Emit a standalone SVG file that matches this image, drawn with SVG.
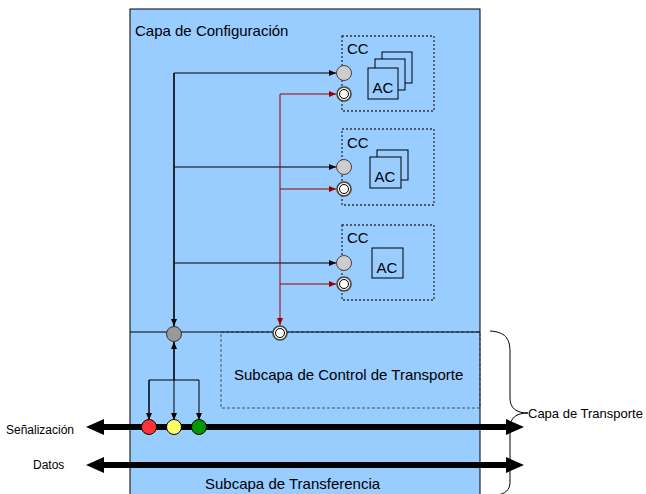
<svg xmlns="http://www.w3.org/2000/svg" width="646" height="494" viewBox="0 0 646 494">
<style>
text{font-family:"Liberation Sans",Arial,sans-serif;fill:#000}
.t15{font-size:15px}
.cc{fill:none;stroke:#333;stroke-width:1.3;stroke-dasharray:2,2}
.ac{fill:#99ccff;stroke:#000;stroke-width:1}
.gc{fill:#cccccc;stroke:#444;stroke-width:1}
.dco{fill:#f2ecd8;stroke:#444;stroke-width:1.6}
.dci{fill:#fff;stroke:#000;stroke-width:1}
.blk{fill:none;stroke:#000;stroke-width:1}
.red{fill:none;stroke:#990000;stroke-width:1}
.thick{stroke:#000;stroke-width:6}
</style>
<defs>
<marker id="ab" markerWidth="8" markerHeight="8" refX="7" refY="4" orient="auto" markerUnits="userSpaceOnUse"><path d="M0,1 L7,4 L0,7 Z" fill="#000"/></marker>
<marker id="ar" markerWidth="8" markerHeight="8" refX="7" refY="4" orient="auto" markerUnits="userSpaceOnUse"><path d="M0,1 L7,4 L0,7 Z" fill="#990000"/></marker>
</defs>
<rect width="646" height="494" fill="#fff"/>
<g id="capa">
<rect x="130" y="9" width="350" height="500" fill="#99ccff" stroke="#000" stroke-width="1"/>
<text class="t15" x="135" y="36">Capa de Configuración</text>
</g>
<g id="control">
<rect x="221" y="332" width="259" height="76" fill="none" stroke="#333" stroke-width="0.8" stroke-dasharray="3,2"/>
<text class="t15" x="234" y="380">Subcapa de Control de Transporte</text>
</g>
<g id="transferencia">
<text class="t15" x="205" y="489">Subcapa de Transferencia</text>
</g>
<g id="cc1">
<rect class="cc" x="342" y="36" width="92" height="75"/>
<text class="t15" x="347" y="54">CC</text>
<rect class="ac" x="382" y="52" width="30" height="31"/>
<rect class="ac" x="375" y="59" width="30" height="31"/>
<rect class="ac" x="368" y="68" width="30" height="31"/>
<text class="t15" x="383" y="93" text-anchor="middle">AC</text>
<circle class="gc" cx="344" cy="73" r="7.5"/>
<circle class="dco" cx="344" cy="94" r="7"/>
<circle class="dci" cx="344" cy="94" r="4.5"/>
</g>
<g id="cc2">
<rect class="cc" x="342" y="129" width="92" height="76"/>
<text class="t15" x="347" y="148">CC</text>
<rect class="ac" x="377" y="150" width="31" height="30"/>
<rect class="ac" x="370" y="157" width="31" height="31"/>
<text class="t15" x="385" y="182" text-anchor="middle">AC</text>
<circle class="gc" cx="344" cy="167" r="7.5"/>
<circle class="dco" cx="344" cy="189" r="7"/>
<circle class="dci" cx="344" cy="189" r="4.5"/>
</g>
<g id="cc3">
<rect class="cc" x="342" y="225" width="92" height="75"/>
<text class="t15" x="347" y="243">CC</text>
<rect class="ac" x="372" y="248" width="31" height="30"/>
<text class="t15" x="387" y="273" text-anchor="middle">AC</text>
<circle class="gc" cx="344" cy="263" r="7.5"/>
<circle class="dco" cx="344" cy="284" r="7"/>
<circle class="dci" cx="344" cy="284" r="4.5"/>
</g>
<g id="connectors">
<line x1="130" y1="332" x2="480" y2="332" stroke="#000" stroke-width="1"/>
<line x1="174" y1="73" x2="174" y2="326" stroke="#000" stroke-width="1.6" marker-end="url(#ab)"/>
<line class="blk" x1="174" y1="73" x2="336" y2="73" marker-end="url(#ab)"/>
<line class="blk" x1="174" y1="167" x2="336" y2="167" marker-end="url(#ab)"/>
<line class="blk" x1="174" y1="263" x2="336" y2="263" marker-end="url(#ab)"/>
<line class="red" x1="280" y1="94" x2="280" y2="325" marker-end="url(#ar)"/>
<line class="red" x1="280" y1="94" x2="336" y2="94" marker-end="url(#ar)"/>
<line class="red" x1="280" y1="189" x2="336" y2="189" marker-end="url(#ar)"/>
<line class="red" x1="280" y1="284" x2="336" y2="284" marker-end="url(#ar)"/>
<line x1="174" y1="380" x2="174" y2="342" stroke="#000" stroke-width="1.6" marker-end="url(#ab)"/>
<polyline class="blk" points="149,420 149,380 199,380 199,420" marker-end="url(#ab)"/>
<polyline class="blk" points="149,380 149,420" marker-end="url(#ab)"/>
<line class="blk" x1="174" y1="380" x2="174" y2="420" marker-end="url(#ab)"/>
<line class="thick" x1="102" y1="427" x2="508" y2="427"/>
<polygon points="86,427 104,419 104,435"/>
<polygon points="524,427 506,419 506,435"/>
<line class="thick" x1="102" y1="465" x2="508" y2="465"/>
<polygon points="86,465 104,457 104,473"/>
<polygon points="524,465 506,457 506,473"/>
<path d="M490,331 C505,332 510,338 510,352 L510,398 C510,408 516,413 528,413 C516,413 510,418 510,428 L510,482 C510,490 505,494 497,495" fill="none" stroke="#000" stroke-width="1"/>
</g>
<g id="hub">
<circle cx="174" cy="334" r="7.5" fill="#999" stroke="#333" stroke-width="1"/>
<circle class="dco" cx="280" cy="333" r="7"/>
<circle class="dci" cx="280" cy="333" r="4.5"/>
</g>
<g id="senales">
<circle cx="149" cy="427" r="7.5" fill="#ff3333" stroke="#000" stroke-width="1"/>
<circle cx="174" cy="427" r="7.5" fill="#ffff66" stroke="#000" stroke-width="1"/>
<circle cx="199" cy="427" r="7.5" fill="#009900" stroke="#000" stroke-width="1"/>
</g>
<g id="labels">
<text x="6" y="434" font-size="12">Señalización</text>
<text x="33" y="469" font-size="12">Datos</text>
<text x="528" y="418" font-size="13">Capa de Transporte</text>
</g>
</svg>
